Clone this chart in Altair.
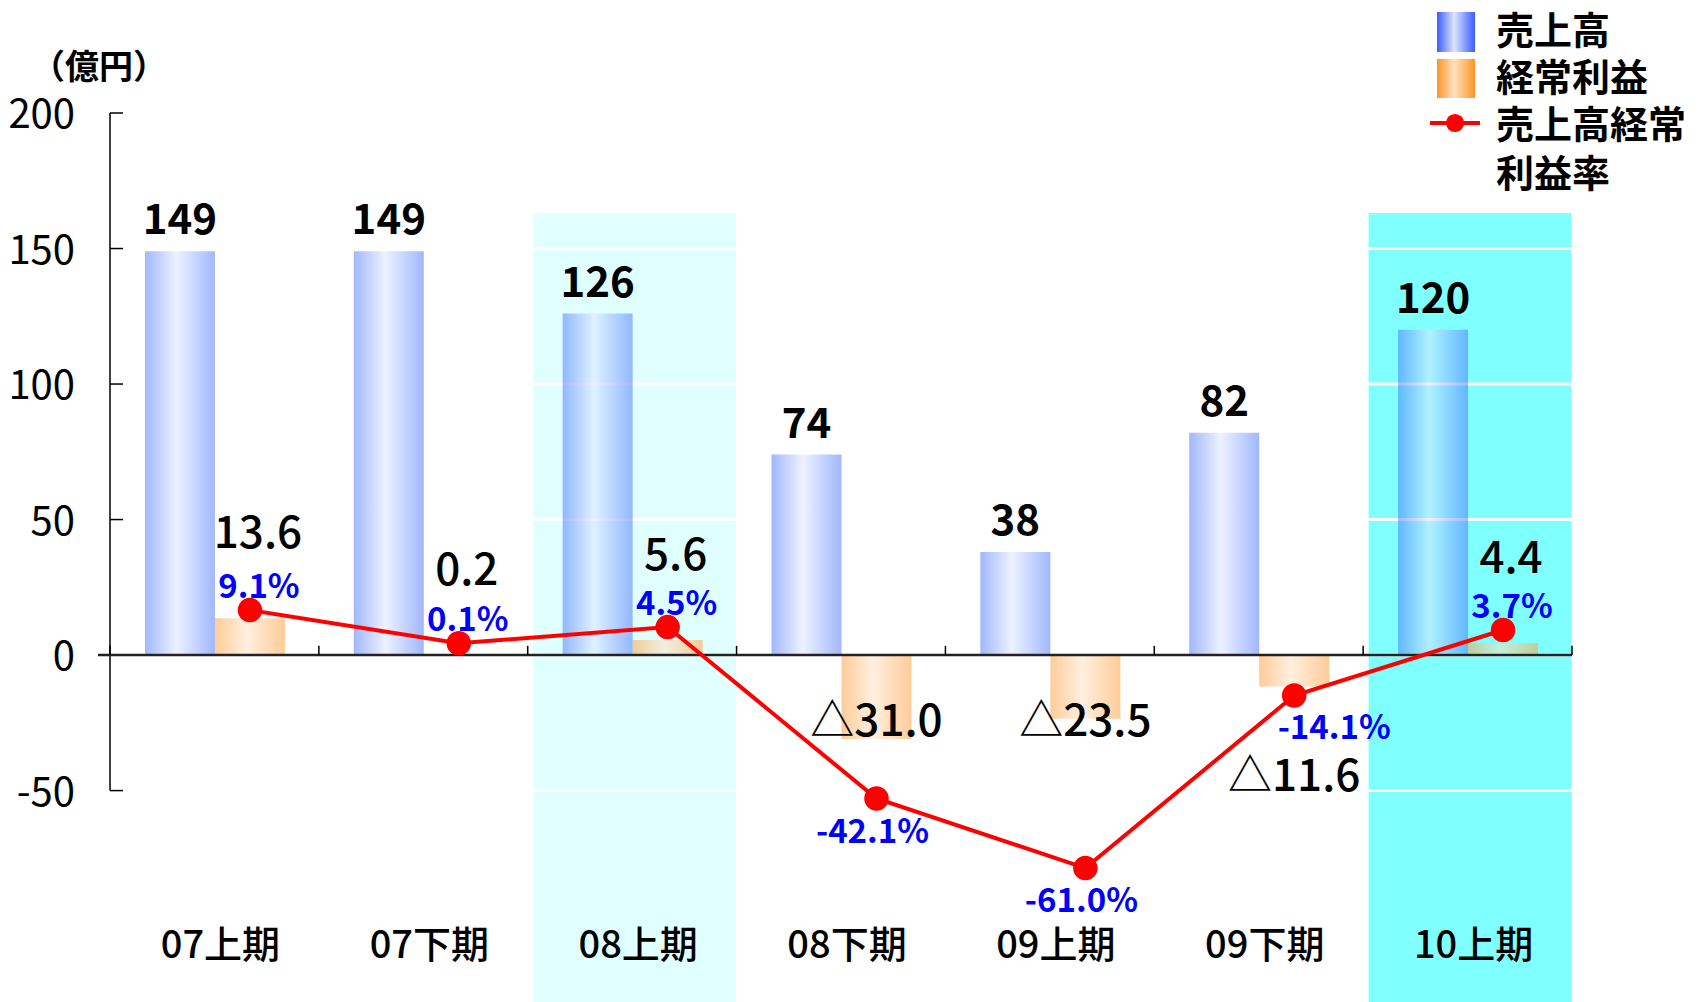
import altair as alt
import pandas as pd

# ---------------- data ----------------
periods = ["07上期", "07下期", "08上期", "08下期", "09上期", "09下期", "10上期"]
sales = [149, 149, 126, 74, 38, 82, 120]              # 売上高 (億円)
profit = [13.6, 0.2, 5.6, -31.0, -23.5, -11.6, 4.4]   # 経常利益 (億円)
margin = [9.1, 0.1, 4.5, -42.1, -61.0, -14.1, 3.7]    # 売上高経常利益率 (%)
y_ticks = [200, 150, 100, 50, 0, -50]
highlight_periods = ["08上期", "10上期"]
highlight_colors = ["#E0FFFF", "#80FFFF"]
legend_lines = ["売上高", "経常利益", "売上高経常", "利益率"]
unit_label = "（億円）"

FONT = "Noto Sans CJK JP"
W, H = 1462, 889

df = pd.DataFrame({"period": periods, "sales": sales, "profit": profit, "margin": margin})
ticks_df = pd.DataFrame({"v": y_ticks})
hl_df = pd.DataFrame({"period": highlight_periods, "fill": highlight_colors})
one = pd.DataFrame({"k": [0]})

xscale = alt.Scale(domain=periods, paddingInner=0, paddingOuter=0)
x_enc = alt.X("period:N", sort=periods, scale=xscale, axis=None)
yscale = alt.Scale(domain=[-128, 200], nice=False, zero=False)
y2scale = alt.Scale(domain=[-97.4, 144.2], nice=False, zero=False)


def grad(edge, mid):
    return alt.Gradient(
        gradient="linear",
        stops=[
            alt.GradientStop(color=edge, offset=0),
            alt.GradientStop(color=mid, offset=0.45),
            alt.GradientStop(color=edge, offset=1),
        ],
        x1=0, x2=1, y1=0, y2=0,
    )


grad_blue = grad("#4470ff", "#dde4ff")
grad_orange = grad("#ff9933", "#ffe0c0")
BAR_W = 70
OFF_B = -34.5
OFF_O = 35.5

base = alt.Chart(df)

# ---------------- primary (億円) layers ----------------
highlight = alt.Chart(hl_df).mark_bar(width=203, xOffset=2.5).encode(
    x=x_enc, y=alt.value(100), y2=alt.value(H),
    color=alt.Color("fill:N", scale=None),
)

grid = alt.Chart(ticks_df).mark_rule(color="white", strokeWidth=3).encode(
    y=alt.Y("v:Q", scale=yscale, axis=None), x=alt.value(0), x2=alt.value(W)
)

bars_sales = base.mark_bar(color=grad_blue, fillOpacity=0.5, width=BAR_W, xOffset=OFF_B).encode(
    x=x_enc, y=alt.Y("sales:Q", scale=yscale, axis=None)
)
bars_profit = base.mark_bar(color=grad_orange, fillOpacity=0.5, width=BAR_W, xOffset=OFF_O).encode(
    x=x_enc, y=alt.Y("profit:Q", scale=yscale, axis=None)
)

# vertical axis line spans the tick range only (from the top tick to the bottom tick)
y_axis_line = alt.Chart(ticks_df).mark_rule(color="black", strokeWidth=1.5).encode(
    x=alt.value(0),
    y=alt.Y("max(v):Q", scale=yscale, axis=None),
    y2=alt.Y2("min(v):Q"),
)
y_tick_marks = alt.Chart(ticks_df).mark_rule(color="black", strokeWidth=1.5).encode(
    y=alt.Y("v:Q", scale=yscale, axis=None), x=alt.value(0), x2=alt.value(13)
)
y_tick_labels = alt.Chart(ticks_df).transform_calculate(
    lbl="'' + datum.v"
).mark_text(align="right", baseline="middle", fontSize=40, dy=3, color="black").encode(
    y=alt.Y("v:Q", scale=yscale, axis=None), x=alt.value(-35), text="lbl:N"
)
zero_line = alt.Chart(one).mark_rule(color="#222222", strokeWidth=2.5).encode(
    y=alt.YDatum(0, type="quantitative", scale=yscale, axis=None),
    x=alt.value(-12), x2=alt.value(W),
)
cat_ticks = base.mark_rule(color="black", strokeWidth=1.5).encode(
    x=alt.X("period:N", sort=periods, scale=xscale, axis=None, bandPosition=0),
    y=alt.YDatum(0, type="quantitative", scale=yscale, axis=None),
    y2=alt.Y2Datum(3.4),
)
cat_tick_last = base.transform_filter(alt.datum.period == periods[-1]).mark_rule(
    color="black", strokeWidth=1.5
).encode(
    x=alt.X("period:N", sort=periods, scale=xscale, axis=None, bandPosition=1),
    y=alt.YDatum(0, type="quantitative", scale=yscale, axis=None),
    y2=alt.Y2Datum(3.4),
)

sales_labels = base.mark_text(
    fontSize=42, fontWeight="bold", baseline="alphabetic", dy=-17, dx=OFF_B, color="black"
).encode(x=x_enc, y=alt.Y("sales:Q", scale=yscale, axis=None), text=alt.Text("sales:Q", format="d"))

profit_pos_labels = base.transform_filter("datum.profit >= 0").transform_calculate(
    plabel="format(datum.profit, '.1f')"
).mark_text(fontSize=44, fontWeight=500, baseline="alphabetic", dy=-70, dx=OFF_O + 8, color="black").encode(
    x=x_enc, y=alt.Y("profit:Q", scale=yscale, axis=None), text="plabel:N"
)
profit_neg_labels = base.transform_filter("datum.profit < 0").transform_calculate(
    plabel="'△' + format(-datum.profit, '.1f')",
    ply="datum.profit < -20 ? -30 : -50",
).mark_text(fontSize=44, fontWeight=500, baseline="alphabetic", dx=OFF_O, color="black").encode(
    x=x_enc, y=alt.Y("ply:Q", scale=yscale, axis=None), text="plabel:N"
)

cat_labels = base.mark_text(fontSize=38, fontWeight=500, baseline="middle", dx=6, color="black").encode(
    x=x_enc, y=alt.value(834), text="period:N"
)

unit_text = alt.Chart(one).mark_text(fontSize=34, fontWeight="bold", baseline="middle", color="black").encode(
    x=alt.value(-11), y=alt.value(-44), text=alt.value(unit_label)
)

primary = alt.layer(
    highlight, grid, bars_sales, bars_profit, y_axis_line, y_tick_marks, zero_line,
    cat_ticks, cat_tick_last, y_tick_labels, sales_labels, profit_pos_labels,
    profit_neg_labels, cat_labels, unit_text,
)

# ---------------- secondary (%) layers ----------------
ratio_line = base.mark_line(color="#ff0000", strokeWidth=4, xOffset=OFF_O).encode(
    x=x_enc, y=alt.Y("margin:Q", scale=y2scale, axis=None)
)
m_pos = base.transform_filter("datum.margin >= 0").transform_calculate(
    mlabel="format(datum.margin, '.1f') + '%'"
).mark_text(color="#0000ff", fontSize=33, fontWeight="bold", baseline="alphabetic", dy=-12, dx=OFF_O + 9).encode(
    x=x_enc, y=alt.Y("margin:Q", scale=y2scale, axis=None), text="mlabel:N"
)
# deep losses: label centred below the marker
m_neg = base.transform_filter("datum.margin < -20").transform_calculate(
    mlabel="'-' + format(-datum.margin, '.1f') + '%'"
).mark_text(color="#0000ff", fontSize=33, fontWeight="bold", baseline="alphabetic", dy=44, dx=OFF_O - 4).encode(
    x=x_enc, y=alt.Y("margin:Q", scale=y2scale, axis=None), text="mlabel:N"
)
# shallow loss: label set to the lower right of the marker
m_neg_small = base.transform_filter("datum.margin < 0 && datum.margin >= -20").transform_calculate(
    mlabel="'-' + format(-datum.margin, '.1f') + '%'"
).mark_text(color="#0000ff", fontSize=33, fontWeight="bold", baseline="alphabetic", dy=44, dx=OFF_O + 40).encode(
    x=x_enc, y=alt.Y("margin:Q", scale=y2scale, axis=None), text="mlabel:N"
)
ratio_pts = base.mark_circle(color="#ff0000", size=600, opacity=1, xOffset=OFF_O).encode(
    x=x_enc, y=alt.Y("margin:Q", scale=y2scale, axis=None)
)
secondary = alt.layer(ratio_line, m_pos, m_neg, m_neg_small, ratio_pts)

# ---------------- legend ----------------
leg_blue = alt.Chart(one).mark_rect(color=grad("#3a5cff", "#dde5ff")).encode(
    x=alt.value(1327), x2=alt.value(1365), y=alt.value(-101), y2=alt.value(-61)
)
leg_orange = alt.Chart(one).mark_rect(color=grad("#ff9426", "#ffe2c0")).encode(
    x=alt.value(1327), x2=alt.value(1365), y=alt.value(-54), y2=alt.value(-15)
)
leg_line = alt.Chart(one).mark_rule(color="#ff0000", strokeWidth=4).encode(
    x=alt.value(1320), x2=alt.value(1370), y=alt.value(10)
)
leg_dot = alt.Chart(one).mark_circle(color="#ff0000", size=330, opacity=1).encode(
    x=alt.value(1345), y=alt.value(10)
)
leg_texts = [
    alt.Chart(one).mark_text(align="left", baseline="middle", fontSize=38, fontWeight="bold", color="black").encode(
        x=alt.value(1386), y=alt.value(yy), text=alt.value(t)
    )
    for t, yy in zip(legend_lines, [-80, -33, 14, 63])
]
legend = alt.layer(leg_blue, leg_orange, leg_line, leg_dot, *leg_texts)

chart = alt.layer(primary, secondary, legend).resolve_scale(y="independent").properties(
    width=W,
    height=H,
    autosize=alt.AutoSizeParams(type="none"),
    padding={"left": 110, "top": 113, "right": 135, "bottom": 0},
    background="white",
).configure(font=FONT).configure_view(stroke=None)

chart.save("out.html", embed_options={"renderer": "svg", "actions": False})
